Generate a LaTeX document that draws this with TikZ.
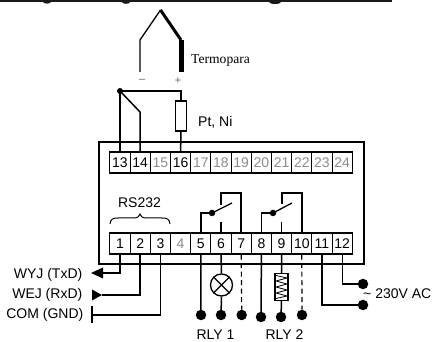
\documentclass[tikz,border=0pt]{standalone}
\usepackage{fontspec}
\setmainfont{Liberation Sans}
\newfontfamily\serifcap{Liberation Serif}
\usetikzlibrary{arrows.meta,calc}
\definecolor{dimnum}{gray}{0.55}
\tikzset{
  x=1pt,y=-1pt,
  wire/.style={line width=1.5pt,line join=miter},
  thinwire/.style={line width=1.3pt},
  dashwire/.style={line width=1.2pt,dash pattern=on 5pt off 3.5pt},
  cell/.style={draw,line width=1.1pt,fill=white,minimum width=20.2pt,minimum height=21pt,inner sep=0pt,font=\fontsize{14}{14}\selectfont,text=#1},
  cell/.default=black,
  lab/.style={inner sep=0pt,font=\fontsize{14}{14}\selectfont},
  dot/.style={circle,fill=black,minimum size=#1,inner sep=0pt},
  dot/.default=10.5pt,
}
\begin{document}
\begin{tikzpicture}
\useasboundingbox (0,0) rectangle (432,342);
% top rule
\fill[black!90] (0,0) rectangle (392,2.4);
\fill[black!90] (47,2) ellipse (4 and 1.6) (126,2) ellipse (4 and 1.8) (275,2) ellipse (6 and 2);
% device box
\node[draw,line width=1.3pt,minimum width=265pt,minimum height=122pt,inner sep=0pt] (box) at (231.5,203) {};
% terminals
\foreach \n/\c in {13/black,14/black,15/dimnum,16/black,17/dimnum,18/dimnum,19/dimnum,20/dimnum,21/dimnum,22/dimnum,23/dimnum,24/dimnum}{
  \node[cell=\c] (t\n) at ({120+20.2*(\n-13)},162.5) {\n};
}
\foreach \n/\c in {1/black,2/black,3/black,4/dimnum,5/black,6/black,7/black,8/black,9/black,10/black,11/black,12/black}{
  \node[cell=\c] (t\n) at ({120+20.2*(\n-1)},243.5) {\n};
}
% thermocouple
\coordinate (apex) at (160.5,10);
\coordinate (tcl) at (140,40);
\coordinate (tcr) at (181,40);
\coordinate (tclb) at (140,72);
\coordinate (tcrb) at (181,72);
\draw[thinwire] (tclb) -- (tcl) -- (apex);
\draw[line width=3pt] (apex) -- (tcr);
\draw[line width=5pt] (tcr) -- (tcrb);
\node[inner sep=0pt,anchor=west,font=\serifcap\fontsize{13.6}{14}\selectfont] (tp) at (191,60) {Termopara};
\node[inner sep=0pt,text=black!75,font=\serifcap\fontsize{12}{12}\selectfont] (minus) at (142,81) {–};
\node[inner sep=0pt,text=black!75,font=\serifcap\fontsize{12}{12}\selectfont] (plus) at (178,81) {+};
% Pt, Ni sensor
\node[dot=6pt] (jn) at (120,91) {};
\node[draw,line width=1.2pt,fill=white,minimum width=10.5pt,minimum height=30pt,inner sep=0pt] (pt) at (181,116) {};
\node[lab,anchor=west] (ptl) at (198,122) {Pt, Ni};
\draw[wire] (jn.center) -- (t13.north);
\draw[wire] (jn.center) -- (140,112) -- (t14.north);
\draw[wire] (jn.center) -| (pt.north);
\draw[wire] (pt.south) -- (t16.north);
% RS232
\node[lab] (rs) at (139.5,203) {RS232};
\coordinate (brl) at (110,224);
\coordinate (brr) at (170,224);
\coordinate (brt) at (140,214);
\draw[line width=1pt] (brl) .. controls (110.5,219) and (113,218) .. (118,218) -- (134,218) .. controls (138,218) and (139.5,216) .. (brt) .. controls (140.5,216) and (142,218) .. (146,218) -- (162,218) .. controls (167,218) and (169.5,219) .. (brr);
% relay 1
\node[dot=6.5pt] (c1) at (212,213) {};
\coordinate (a1) at (232,203);
\draw[wire] (t5.north) |- (c1.center);
\draw[thinwire] (c1.center) -- (a1);
\draw[wire] (t6.north) -- ++(0,-10);
\draw[wire] (t7.north) |- (221,193) -- (221,205);
% relay 2
\node[dot=6.5pt] (c2) at (273,213) {};
\coordinate (a2) at (292,203);
\draw[wire] (t8.north) |- (c2.center);
\draw[thinwire] (c2.center) -- (a2);
\draw[wire] (t9.north) -- ++(0,-10);
\draw[wire] (t10.north) |- (282,193) -- (282,204);
% serial lines
\coordinate (txa) at (100,273);
\coordinate (rxa) at (102,295);
\coordinate (gnd) at (92,315);
\draw[wire] (t1.south) |- (txa);
\fill (91,273) -- (103,267.5) -- (103,278.5) -- cycle;
\draw[wire] (t2.south) |- (rxa);
\fill (92,289.5) -- (rxa) -- (92,300.5) -- cycle;
\draw[wire] (t3.south) |- (gnd);
\draw[thinwire] (92,306) -- (92,323.5);
\node[lab,anchor=east] (txl) at (82.5,275) {WYJ (TxD)};
\node[lab,anchor=east] (rxl) at (82.5,295) {WEJ (RxD)};
\node[lab,anchor=east] (coml) at (83.5,315) {COM (GND)};
% relay outputs
\node[dot] (o5) at (201,315) {};
\node[dot] (o6) at (221,315) {};
\node[dot] (o7) at (241.7,315) {};
\node[dot] (o8) at (261,317) {};
\node[dot] (o9) at (281,317) {};
\node[dot] (o10) at (302,315) {};
\draw[wire] (t5.south) -- (o5.center);
\node[draw,circle,line width=1.3pt,minimum size=22pt,inner sep=0pt] (lamp) at (221.5,285) {};
\draw[wire] (t6.south) -- (lamp.north);
\draw[wire] (lamp.south) -- (o6.center);
\draw[line width=1.2pt] (lamp.north west) -- (lamp.south east) (lamp.north east) -- (lamp.south west);
\draw[dashwire] (t7.south) -- (o7.north);
\draw[wire] (t8.south) -- (o8.center);
\node[draw,line width=1.2pt,fill=white,minimum width=13pt,minimum height=27pt,inner sep=0pt] (coil) at (281.5,287) {};
\draw[wire] (t9.south) -- (coil.north);
\draw[wire] (coil.south) -- (o9.center);
\draw[line width=.8pt] (276,275.5) -- (287,278) -- (276,281) -- (287,284) -- (276,287) -- (287,290) -- (276,293) -- (287,296) -- (276,298.5);
\draw[dashwire] (t10.south) -- (o10.north);
\node[lab] (r1) at (215.5,334.5) {RLY 1};
\node[lab] (r2) at (284.5,334.5) {RLY 2};
% mains
\node[dot] (ac1) at (363,284) {};
\node[dot] (ac2) at (363,305) {};
\draw[thinwire] (t12.south) |- (ac1.center);
\draw[thinwire] (t11.south) |- (ac2.center);
\node[lab,anchor=west] (acl) at (363,294) {\textasciitilde{} 230V AC};
\end{tikzpicture}
\end{document}
